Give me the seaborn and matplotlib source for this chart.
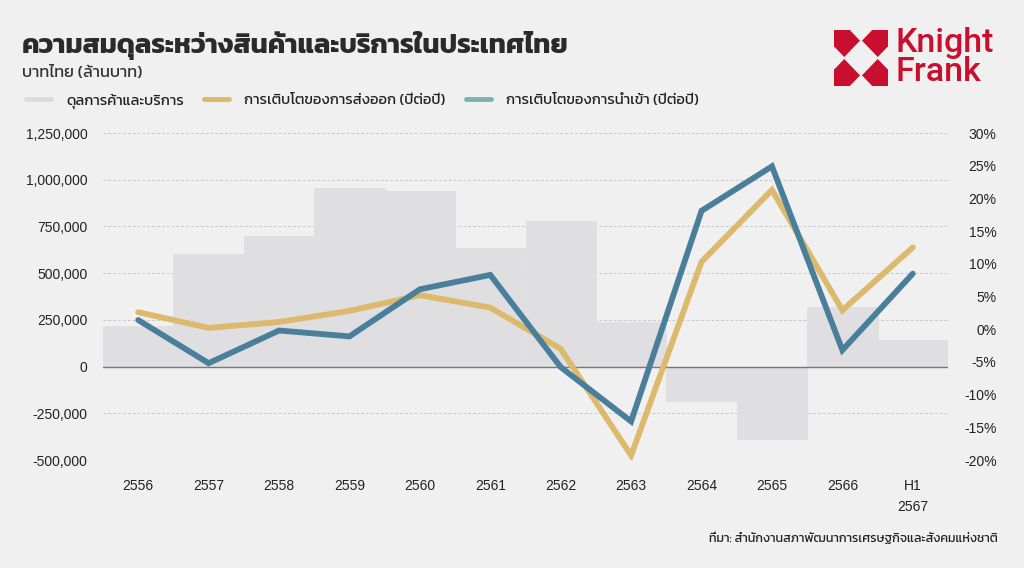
import matplotlib
matplotlib.use("Agg")
import matplotlib.pyplot as plt
import seaborn as sns
import pandas as pd
from matplotlib.lines import Line2D
from matplotlib.patches import Polygon
from matplotlib.ticker import FuncFormatter, MultipleLocator

# data
years = ["2556", "2557", "2558", "2559", "2560", "2561", "2562", "2563",
         "2564", "2565", "2566", "H1\n2567"]
trade_balance = [215000, 605000, 700000, 955000, 940000, 637000, 780000, 237000,
                 -185000, -385000, 319000, 144000]
export_growth = [2.6, 0.2, 1.1, 2.8, 5.2, 3.3, -3.0, -19.3, 10.3, 21.3, 2.9, 12.5]
import_growth = [1.4, -5.2, -0.2, -1.1, 6.1, 8.3, -5.8, -14.1, 18.1, 24.9, -3.2, 8.5]

bg = "#eff0ef"
bar_col = "#dfdfe1"
gold = "#dcb96c"
blue = "#4a7f9c"
teal = "#7bb3b5"
red = "#c8102e"
ink = "#222222"
thai = ["Kanit", "DejaVu Sans"]
num_font = ["Liberation Sans", "DejaVu Sans"]

df = pd.DataFrame({"year": years, "balance": trade_balance,
                   "export": export_growth, "import": import_growth})

sns.set_theme(style="white")
plt.rcParams["font.family"] = num_font

fig = plt.figure(figsize=(10.24, 5.68), dpi=100, facecolor=bg)
ax = fig.add_axes([103 / 1024, 1 - 460 / 568, 845 / 1024, 327 / 568])
ax.set_facecolor(bg)

sns.barplot(data=df, x="year", y="balance", color=bar_col, width=1.0,
            saturation=1, linewidth=0.6, edgecolor=bar_col, ax=ax, zorder=2)
ax.set_ylim(-500000, 1250000)
ax.set_xlim(-0.5, 11.5)
ax.yaxis.set_major_locator(MultipleLocator(250000))
ax.yaxis.set_major_formatter(FuncFormatter(lambda v, p: f"{int(v):,}"))
ax.grid(axis="y", color="#c9c9c9", linestyle=(0, (3, 2)), linewidth=0.7, zorder=0)
ax.set_axisbelow(True)
ax.axhline(0, color="#777777", linewidth=1.0, zorder=3)
ax.set_xlabel("")
ax.set_ylabel("")
ax.tick_params(axis="y", length=0, pad=11, labelsize=10, labelcolor=ink)
ax.tick_params(axis="x", length=0, pad=14, labelsize=10, labelcolor=ink)
for lbl in ax.get_xticklabels():
    lbl.set_linespacing(1.6)
    lbl.set_verticalalignment("top")
for s in ax.spines.values():
    s.set_visible(False)

ax2 = ax.twinx()
sns.lineplot(data=df, x="year", y="export", color=gold, linewidth=4.2,
             sort=False, ax=ax2, zorder=4)
sns.lineplot(data=df, x="year", y="import", color=blue, linewidth=4.2,
             sort=False, ax=ax2, zorder=5)
ax2.set_ylim(-20, 30)
ax2.set_xlim(-0.5, 11.5)
ax2.yaxis.set_major_locator(MultipleLocator(5))
ax2.yaxis.set_major_formatter(FuncFormatter(lambda v, p: f"{int(v)}%"))
ax2.set_ylabel("")
ax2.tick_params(axis="y", length=0, pad=35, labelsize=10, labelcolor=ink)
for lbl in ax2.get_yticklabels():
    lbl.set_horizontalalignment("right")
ax2.grid(False)
for s in ax2.spines.values():
    s.set_visible(False)
for ln in ax2.get_lines():
    ln.set_solid_capstyle("round")
    ln.set_solid_joinstyle("miter")

# titles
fig.text(22 / 1024, 1 - 45 / 568, "ความสมดุลระหว่างสินค้าและบริการในประเทศไทย",
         family=thai, fontweight="bold", fontsize=19.6, color="#2a2a2a", va="center")
fig.text(22 / 1024, 1 - 73 / 568, "บาทไทย (ล้านบาท)", family=thai,
         fontsize=11.8, color="#333333", va="center")

handles = [Line2D([], [], color="#dcdcdc", lw=3.5),
           Line2D([], [], color=gold, lw=3.5),
           Line2D([], [], color=teal, lw=3.5)]
labels = ["ดุลการค้าและบริการ", "การเติบโตของการส่งออก (ปีต่อปี)",
          "การเติบโตของการนำเข้า (ปีต่อปี)"]
fig.legend(handles, labels, loc="center left", bbox_to_anchor=(13 / 1024, 1 - 101 / 568),
           ncol=3, frameon=False, handlelength=1.7, handletextpad=1.0,
           columnspacing=1.4, labelcolor=ink,
           prop={"family": thai, "size": 10.6})

fig.text(998 / 1024, 1 - 538 / 568,
         "ที่มา: สำนักงานสภาพัฒนาการเศรษฐกิจและสังคมแห่งชาติ",
         family=thai, fontsize=9.1, color=ink, ha="right", va="center")

# Knight Frank logo
lax = fig.add_axes([834 / 1024, 1 - 86 / 568, 54 / 1024, 56 / 568])
lax.set_xlim(0, 1)
lax.set_ylim(0, 1)
lax.axis("off")
lax.add_patch(Polygon([(0, 0), (1, 0), (1, 1), (0, 1)], color=red))
d, n = 0.31, 0.19
white = [
    [(0.5 - d, 0.5), (0.5, 0.5 + d), (0.5 + d, 0.5), (0.5, 0.5 - d)],
    [(0.5 - n, 1), (0.5 + n, 1), (0.5, 1 - n)],
    [(0.5 - n, 0), (0.5 + n, 0), (0.5, n)],
    [(0, 0.5 - n), (0, 0.5 + n), (n, 0.5)],
    [(1, 0.5 - n), (1, 0.5 + n), (1 - n, 0.5)],
]
for pts in white:
    lax.add_patch(Polygon(pts, color=bg))
fig.text(896 / 1024, 1 - 43 / 568, "Knight", family=["Roboto", "DejaVu Sans"],
         fontweight="medium", fontsize=24.5, color=red, va="center")
fig.text(896 / 1024, 1 - 72 / 568, "Frank", family=["Roboto", "DejaVu Sans"],
         fontweight="medium", fontsize=24.5, color=red, va="center")

fig.savefig("out.png", dpi=100, facecolor=bg)
